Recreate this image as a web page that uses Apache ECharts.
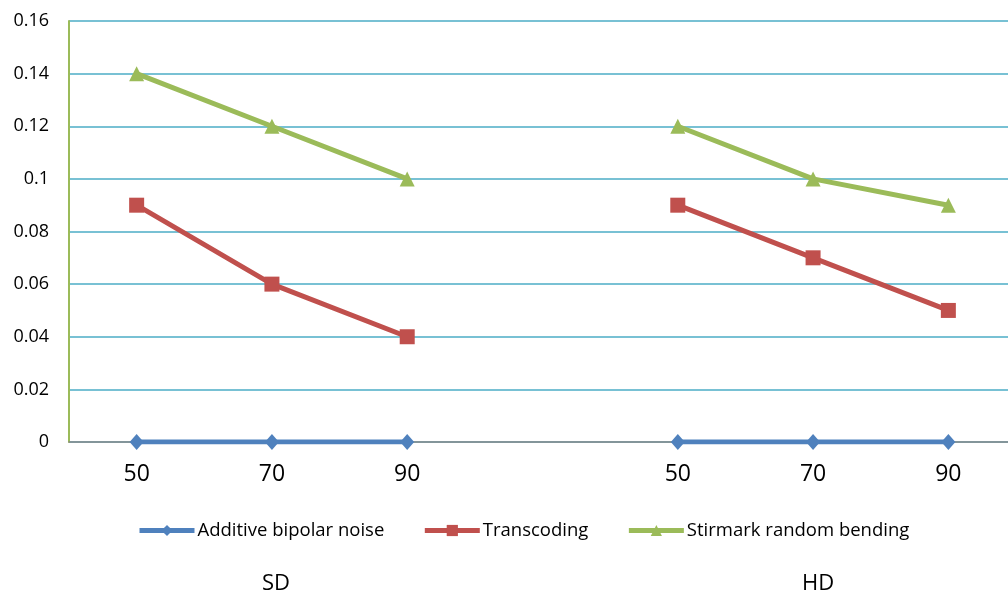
<!DOCTYPE html>
<html>
<head>
<meta charset="utf-8">
<script src="https://cdn.jsdelivr.net/npm/echarts@6/dist/echarts.min.js"></script>
<style>html,body{margin:0;padding:0;background:#fff;}#c{width:1008px;height:598px;}</style>
</head>
<body>
<div id="c"></div>
<script>
const categories = ['50', '70', '90', '', '50', '70', '90'];
const groupLabels = ['SD', 'HD'];
const additive = [0, 0, 0, null, 0, 0, 0];
const transcoding = [0.09, 0.06, 0.04, null, 0.09, 0.07, 0.05];
const stirmark = [0.14, 0.12, 0.10, null, 0.12, 0.10, 0.09];

const chart = echarts.init(document.getElementById('c'));
const font = 'Open Sans, Noto Sans, sans-serif';
function mk(name, data, color, symbol, size) {
  return {
    name, type: 'line', data, color,
    symbol, symbolSize: size, connectNulls: false,
    lineStyle: { width: 5, color },
    itemStyle: { color },
    animation: false
  };
}
chart.setOption({
  animation: false,
  grid: { left: 69, width: 947, top: 21, bottom: 156, outerBoundsMode: 'none', containLabel: false },
  xAxis: {
    type: 'category', data: categories, boundaryGap: true,
    axisLine: { lineStyle: { color: '#868686', width: 1.5 } },
    axisTick: { show: false },
    axisLabel: { color: '#000', fontSize: 23, fontFamily: font, margin: 21 }
  },
  yAxis: {
    type: 'value', min: 0, max: 0.16, interval: 0.02,
    axisLine: { show: true, lineStyle: { color: '#9BBB59', width: 2 } },
    axisTick: { show: false },
    splitLine: { lineStyle: { color: '#4BACC6', width: 1.5 } },
    axisLabel: { color: '#000', fontSize: 18, fontFamily: font, margin: 20,
      formatter: v => String(parseFloat(v.toFixed(2))) }
  },
  legend: {
    bottom: 58, left: 137, padding: 0, itemWidth: 55, itemHeight: 14, itemGap: 38,
    lineStyle: { width: 5 },
    textStyle: { color: '#000', fontSize: 18.5, fontFamily: font, padding: [0, 0, 0, -2] },
    data: ['Additive bipolar noise', 'Transcoding', 'Stirmark random bending']
  },
  graphic: [
    { type: 'text', left: 262, top: 573, style: { text: groupLabels[0], fontSize: 22, fontFamily: font, fill: '#000' } },
    { type: 'text', left: 802, top: 573, style: { text: groupLabels[1], fontSize: 22, fontFamily: font, fill: '#000' } }
  ],
  series: [
    mk('Additive bipolar noise', additive, '#4F81BD', 'diamond', [14, 16]),
    mk('Transcoding', transcoding, '#C0504D', 'rect', 15),
    mk('Stirmark random bending', stirmark, '#9BBB59', 'triangle', [15, 15])
  ]
});
</script>
</body>
</html>
